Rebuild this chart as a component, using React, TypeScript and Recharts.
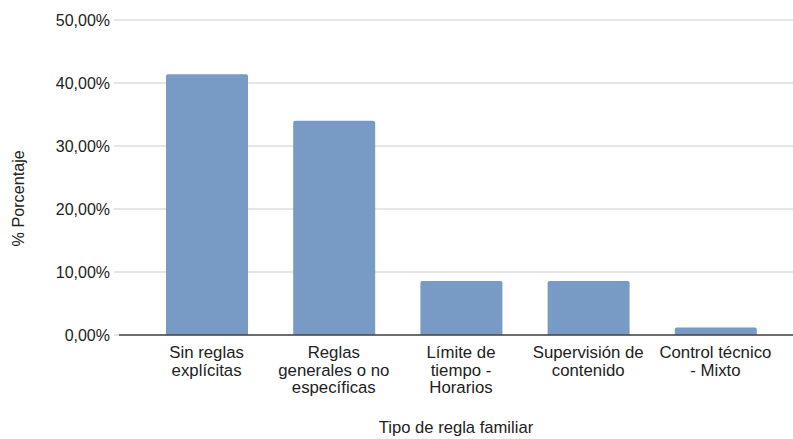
import React from "react";
import { BarChart, Bar, XAxis, YAxis, CartesianGrid } from "recharts";

const categories = [
  "Sin reglas explícitas",
  "Reglas generales o no específicas",
  "Límite de tiempo - Horarios",
  "Supervisión de contenido",
  "Control técnico - Mixto",
];
const percentages = [41.4, 34.0, 8.57, 8.57, 1.2];
const yTicks = [0, 10, 20, 30, 40, 50];
const xTitle = "Tipo de regla familiar";
const yTitle = "% Porcentaje";

const data = categories.map((c, i) => ({ name: c, value: percentages[i] }));

const FONT = "Liberation Sans, Arial, sans-serif";

function wrap(text: string, max: number): string[] {
  const words = text.split(" ");
  const lines: string[] = [];
  let cur = "";
  for (const w of words) {
    const t = cur ? cur + " " + w : w;
    if (t.length > max && cur) {
      lines.push(cur);
      cur = w;
    } else cur = t;
  }
  if (cur) lines.push(cur);
  return lines;
}

const XTick = (props: any) => {
  const { x, y, payload } = props;
  const lines = wrap(payload.value, 15);
  return (
    <text x={x} y={y} textAnchor="middle" fontSize={16.8} fill="#222" fontFamily={FONT}>
      {lines.map((l, i) => (
        <tspan key={i} x={x} dy={i === 0 ? 15 : 17.5}>
          {l}
        </tspan>
      ))}
    </text>
  );
};

const fmt = (v: number) => v.toFixed(2).replace(".", ",") + "%";

export default function App() {
  return (
    <div style={{ position: "absolute", left: 0, top: 0, background: "#fff" }}>
      <BarChart
        width={793}
        height={439}
        data={data}
        margin={{ top: 20, right: 0, left: 0, bottom: 0 }}
        barSize={82}
      >
        <CartesianGrid vertical={false} stroke="#cccccc" strokeWidth={1} />
        <XAxis
          dataKey="name"
          height={104}
          interval={0}
          tickLine={false}
          axisLine={{ stroke: "#444", strokeWidth: 1.5 }}
          padding={{ left: 24, right: 14 }}
          tick={<XTick />}
          label={{
            value: xTitle,
            position: "insideBottom",
            offset: 6,
            fontSize: 16.6,
            fill: "#222",
            fontFamily: FONT,
          }}
        />
        <YAxis
          width={119}
          domain={[0, 50]}
          ticks={yTicks}
          tickFormatter={fmt}
          axisLine={false}
          tickLine={{ stroke: "#cccccc" }}
          tickSize={5}
          tickMargin={4}
          tick={{ fontSize: 16, fill: "#222", fontFamily: FONT }}
          label={{
            value: yTitle,
            angle: -90,
            position: "insideLeft",
            offset: 18,
            dy: 69,
            fontSize: 16.2,
            fill: "#222",
            fontFamily: FONT,
          }}
        />
        <Bar dataKey="value" fill="#779bc5" radius={[2, 2, 0, 0]} isAnimationActive={false} />
      </BarChart>
    </div>
  );
}
